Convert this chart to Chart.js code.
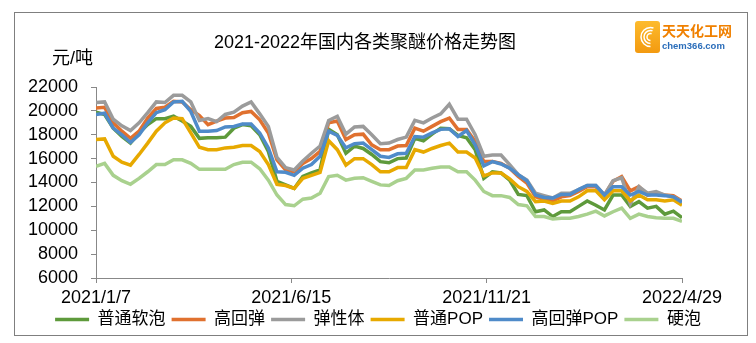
<!DOCTYPE html>
<html>
<head>
<meta charset="utf-8">
<script src="https://cdn.jsdelivr.net/npm/chart.js@4.4.1/dist/chart.umd.min.js"></script>
<style>
  html, body { margin: 0; padding: 0; background: #fff; }
</style>
</head>
<body>
<canvas id="priceChart" width="756" height="343"></canvas>
<script>
  "use strict";

  // weekly prices, yuan/ton
  const seriesNames = ["普通软泡", "高回弹", "弹性体", "普通POP", "高回弹POP", "硬泡"];
  const dateTicks = ["2021/1/7", "2021/6/15", "2021/11/21", "2022/4/29"];

  const ptSoft = [19900,19700,18550,17850,17300,18150,18850,19350,19350,19550,19150,18700,17700,17750,17750,17800,18550,18850,18750,18000,16600,14100,
    13800,13500,14500,14800,15050,18450,18000,16450,17050,16850,16350,15750,15650,16000,16050,17700,17500,18050,18550,18500,17950,17750,16750,
    14350,14900,14800,14200,13000,12900,11550,11700,11150,11550,11550,12000,
    12450,12100,11700,12950,12950,12000,12400,11850,12000,11350,11600,11050];
  const highRes = [20250,20300,19000,18300,17700,18300,19400,20200,20300,20800,20750,20100,19600,18850,19150,19400,19450,19850,19950,19250,18150,15900,
    15050,14900,15600,16000,16600,19000,19150,17600,18000,18050,17150,16750,16750,17050,17100,18550,18300,18700,19100,19400,18450,18450,17450,
    15750,15750,15600,15200,14500,13950,12800,12600,12450,12800,12900,13250,
    13650,13650,12950,14100,14500,13300,13650,12950,13100,12950,12900,12450];
  const elastomer = [20700,20750,19300,18750,18350,19000,19850,20750,20700,21300,21300,20750,19200,19350,19100,19700,19900,20400,20750,19750,18700,16100,
    15250,15050,15800,16450,17050,19200,19550,18050,18650,18700,18000,17250,17300,17600,17800,19200,19000,19400,19750,20550,19300,19300,18000,
    16200,16300,16300,15500,14650,14200,13100,12900,12700,13100,13100,13400,
    13750,13750,12950,14150,14400,12200,13650,13100,13250,12950,12800,12400];
  const ptPop = [17600,17650,16200,15700,15450,16350,17300,18300,19000,19400,19350,18150,16950,16750,16750,16900,16950,17100,17100,16600,15500,13850,
    13750,13500,14350,14600,14850,17500,16750,15450,16000,16000,15500,14900,14900,15250,15250,16750,16550,16850,17100,17300,16550,16550,16050,
    14550,14800,14800,14300,13650,13250,12400,12450,12250,12450,12450,12800,
    13300,13300,12550,13300,13300,12450,12950,12550,12550,12450,12550,12100];
  const highResPop = [19700,19800,18550,18000,17350,18000,19000,19850,20100,20750,20800,19950,18300,18300,18350,18650,18700,18900,18900,18150,16900,14900,
    14850,14600,15200,15500,16200,18300,17950,16900,17250,17300,16750,16200,16100,16400,16450,17850,17800,18150,18450,18500,17850,18350,17150,
    15400,15750,15550,15200,14650,14150,12950,12750,12700,13000,13000,13400,
    13750,13750,12950,13650,13650,12950,13250,12950,12950,12900,12800,12350];
  const rigid = [15350,15600,14600,14150,13850,14350,14900,15500,15500,15900,15900,15600,15100,15100,15100,15100,15500,15700,15700,15150,14200,12950,
    12150,12050,12600,12700,13100,14500,14600,14200,14350,14400,14100,13800,13750,14150,14350,15050,15050,15200,15300,15300,14900,14900,14200,
    13250,12900,12900,12750,12150,12050,11150,11150,10950,11000,11000,11150,
    11350,11600,11200,11550,11850,11000,11350,11150,11050,11000,11000,10750];

  const seriesData = [ptSoft, highRes, elastomer, ptPop, highResPop, rigid];
  const colors = ["#5E9A3B", "#E0712F", "#9B9B9B", "#E7A900", "#4F8BC9", "#A9D18E"];

  const FONT = "'Liberation Sans', Arial, 'Noto Sans CJK SC', sans-serif";
  const lastIdx = ptSoft.length - 1;
  const tickIdx = dateTicks.map((d, i) => lastIdx * i / (dateTicks.length - 1));

  function toPoints(arr) {
    return arr.map((v, i) => ({ x: i, y: v }));
  }

  // frame, title, unit and logo
  const decor = {
    id: "decor",
    beforeDraw(chart) {
      const ctx = chart.ctx;
      ctx.save();
      ctx.fillStyle = "#fff";
      ctx.fillRect(0, 0, chart.width, chart.height);
      ctx.strokeStyle = "#7f7f7f";
      ctx.lineWidth = 1;
      ctx.strokeRect(14.5, 12.5, 733, 323);
      ctx.restore();
    },
    afterDraw(chart) {
      const ctx = chart.ctx;
      ctx.save();
      ctx.fillStyle = "#000";
      ctx.textBaseline = "middle";
      ctx.textAlign = "center";
      ctx.font = "18px " + FONT;
      ctx.fillText("2021-2022年国内各类聚醚价格走势图", 365, 43);
      ctx.textAlign = "left";
      ctx.fillText("元/吨", 52, 59);

      // logo
      const x = 635, y = 21, w = 25, h = 32;
      const g = ctx.createLinearGradient(x, y, x, y + h);
      g.addColorStop(0, "#FDBB2D");
      g.addColorStop(1, "#F39A10");
      ctx.fillStyle = g;
      ctx.beginPath();
      ctx.roundRect(x, y, w, h, 3);
      ctx.fill();
      ctx.strokeStyle = "#fff";
      ctx.lineWidth = 1.5;
      [3.5, 6.5, 9.5].forEach(r => {
        ctx.beginPath();
        ctx.arc(x + w / 2 + 3, y + h / 2, r, Math.PI * 0.5, Math.PI * 1.6);
        ctx.stroke();
      });
      ctx.fillStyle = "#F08000";
      ctx.font = "bold 14px 'Noto Sans CJK SC', sans-serif";
      ctx.fillText("天天化工网", 662, 31);
      ctx.fillStyle = "#2A6DBA";
      ctx.font = "bold 9.5px 'Liberation Sans', Arial, sans-serif";
      ctx.fillText("chem366.com", 662, 46);
      ctx.restore();
    }
  };

  const ctx = document.getElementById("priceChart").getContext("2d");
  const chart = new Chart(ctx, {
    type: "line",
    data: {
      datasets: seriesNames.map((name, k) => ({
        label: name,
        data: toPoints(seriesData[k]),
        borderColor: colors[k],
        backgroundColor: colors[k],
        borderWidth: 3.5,
        pointRadius: 0,
        tension: 0,
        order: seriesNames.length - k
      }))
    },
    options: {
      responsive: false,
      animation: false,
      devicePixelRatio: 1,
      layout: { padding: { left: 0, right: 0, top: 87, bottom: 5 } },
      plugins: {
        title: { display: false },
        tooltip: { enabled: false },
        legend: {
          position: "bottom",
          labels: {
            usePointStyle: true,
            pointStyle: "line",
            pointStyleWidth: 34,
            padding: 6,
            color: "#000",
            font: { family: FONT, size: 17 },
            sort: (a, b) => a.datasetIndex - b.datasetIndex
          }
        }
      },
      scales: {
        x: {
          type: "linear",
          min: 0,
          max: lastIdx,
          afterBuildTicks: s => { s.ticks = tickIdx.map(v => ({ value: v })); },
          afterFit: s => { s.height = 27; s.paddingLeft = 0; s.paddingRight = 74; },
          ticks: {
            autoSkip: false,
            maxRotation: 0,
            padding: 4,
            color: "#000",
            font: { family: FONT, size: 18 },
            callback: (v, i) => dateTicks[i]
          },
          grid: { drawOnChartArea: false, drawTicks: true, tickLength: 5, color: "#888" },
          border: { color: "#888", width: 1 }
        },
        y: {
          min: 6000,
          max: 22000,
          afterFit: s => { s.width = 96; s.paddingTop = 0; s.paddingBottom = 0; },
          ticks: {
            stepSize: 2000,
            autoSkip: false,
            padding: 13,
            color: "#000",
            font: { family: FONT, size: 18 },
            callback: v => String(v)
          },
          grid: { drawOnChartArea: false, drawTicks: true, tickLength: 5, color: "#888" },
          border: { color: "#888", width: 1 }
        }
      }
    },
    plugins: [decor]
  });
</script>
</body>
</html>
